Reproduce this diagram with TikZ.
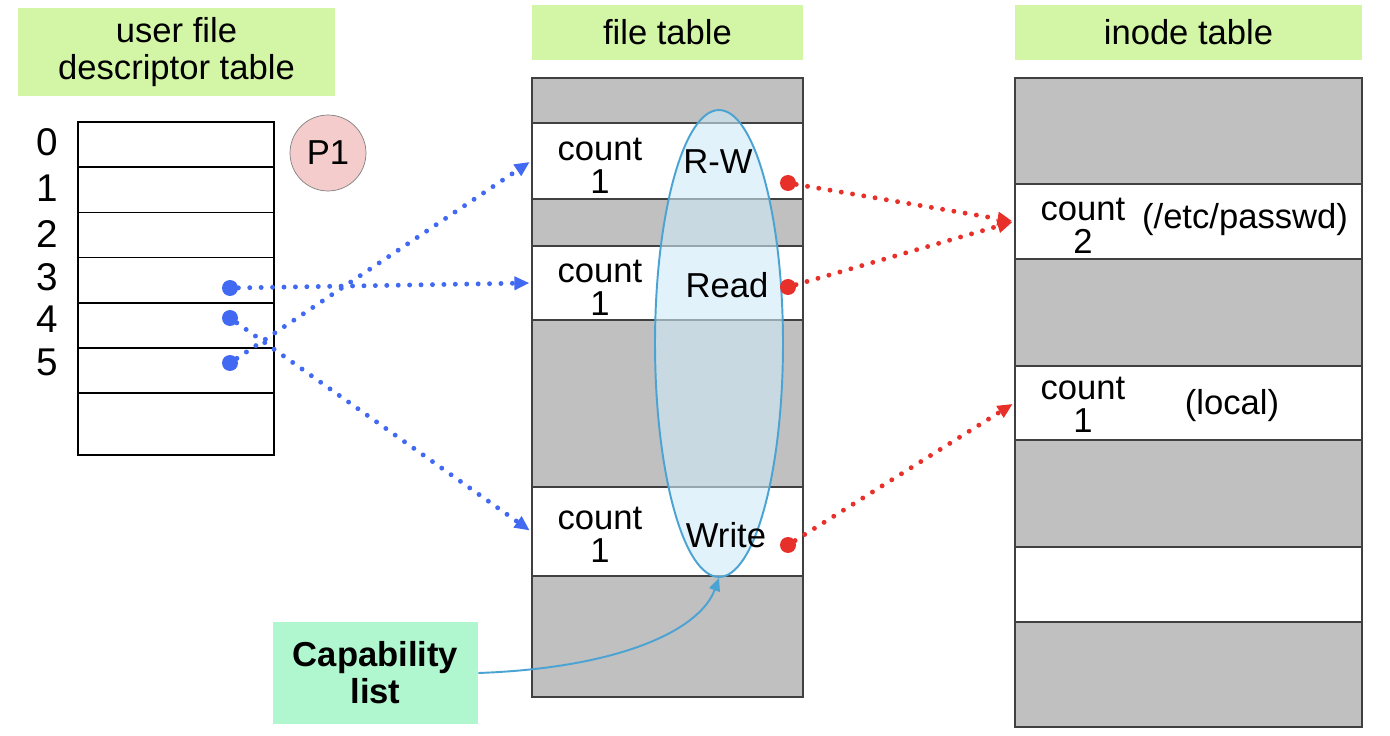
\documentclass[tikz,border=0pt]{standalone}
\usepackage{fontspec}
\setmainfont{Liberation Sans}
\usetikzlibrary{arrows.meta,positioning,shapes.geometric}
\definecolor{headgreen}{HTML}{D2F6A6}
\definecolor{capgreen}{HTML}{B0F6CE}
\definecolor{cellgray}{HTML}{C0C0C0}
\definecolor{linegray}{HTML}{404040}
\definecolor{ptrblue}{HTML}{4169F2}
\definecolor{ptrred}{HTML}{E8302A}
\definecolor{capblue}{HTML}{4AA3D2}
\definecolor{capfill}{HTML}{CFEAF7}
\definecolor{procpink}{HTML}{F4CCCC}
\tikzset{
  heading/.style={fill=headgreen,font=\fontsize{19.7}{21.5}\selectfont,align=center,inner sep=0pt},
  fdcell/.style={draw=black,fill=white,line width=0.8pt,minimum width=3.92cm,minimum height=0.904cm,inner sep=0pt},
  fdnum/.style={font=\fontsize{22}{24}\selectfont,inner sep=0pt},
  tablebox/.style={draw=linegray,fill=cellgray,line width=1pt,inner sep=0pt},
  slot/.style={draw=linegray,fill=white,line width=1pt,inner sep=0pt},
  txt/.style={font=\fontsize{19.7}{18.5}\selectfont,align=center,inner sep=0pt},
  bluedot/.style={circle,fill=ptrblue,minimum size=0.32cm,inner sep=0pt},
  reddot/.style={circle,fill=ptrred,minimum size=0.32cm,inner sep=0pt},
  blueptr/.style={-{Triangle[length=3mm,width=2.6mm]},draw=ptrblue,line width=2.8pt,dash pattern=on 0pt off 6.5pt,line cap=round,shorten >=1pt},
  redptr/.style={-{Triangle[length=3mm,width=2.6mm]},draw=ptrred,line width=2.8pt,dash pattern=on 0pt off 6.5pt,line cap=round,shorten >=1pt},
  caparrow/.style={-{Triangle[length=2.6mm,width=2.2mm]},draw=capblue,line width=1.1pt}
}
\begin{document}
\begin{tikzpicture}[x=0.02cm,y=-0.02cm]
\path[use as bounding box] (0,0) rectangle (1390,736);

% headings
\node[heading,minimum width=6.34cm,minimum height=1.76cm] (fdhead) at (176.5,52) {user file\\descriptor table};
\node[heading,minimum width=5.42cm,minimum height=1.1cm] (fthead) at (667.5,32.5) {file table};
\node[heading,minimum width=6.94cm,minimum height=1.1cm] (inhead) at (1188.5,32.5) {inode table};

% user file descriptor table
\foreach \i in {0,...,5}
  \node[fdcell] (fd\i) at (176,144.6+45.2*\i) {};
\node[fdcell,minimum height=1.24cm] (fd6) at (176,424) {};
\foreach \n/\y in {0/142,1/188,2/234,3/277,4/319,5/362}
  \node[fdnum] (num\n) at (47,\y) {\n};
\node[circle,draw=gray,fill=procpink,minimum size=1.52cm,inner sep=0pt,font=\fontsize{19.7}{20}\selectfont] (proc) at (328,153) {P1};

% file table
\node[tablebox,minimum width=5.42cm,minimum height=12.38cm] (ft) at (667.5,387.5) {};
\node[slot,minimum width=5.42cm,minimum height=1.52cm] (ft1) at (667.5,161) {};
\node[slot,minimum width=5.42cm,minimum height=1.48cm] (ft2) at (667.5,283) {};
\node[slot,minimum width=5.42cm,minimum height=1.78cm] (ft3) at (667.5,531.5) {};
\node[txt] (cnt1) at (600,166) {count\\1};
\node[txt] (cnt2) at (600,288) {count\\1};
\node[txt] (cnt3) at (600,535) {count\\1};

% capability ellipse
\node[ellipse,draw=capblue,fill=capfill,fill opacity=0.6,line width=1.1pt,minimum width=2.56cm,minimum height=9.34cm,inner sep=0pt] (cap) at (719,343.5) {};
\node[txt] (rw) at (718,162) {R-W};
\node[txt] (rd) at (727,285) {Read};
\node[txt] (wr) at (726,535) {Write};

% inode table
\node[tablebox,minimum width=6.94cm,minimum height=12.98cm] (it) at (1188.5,402.5) {};
\node[slot,minimum width=6.94cm,minimum height=1.5cm] (in1) at (1188.5,221.5) {};
\node[slot,minimum width=6.94cm,minimum height=1.48cm] (in2) at (1188.5,403) {};
\node[slot,minimum width=6.94cm,minimum height=1.5cm] (in3) at (1188.5,584.5) {};
\node[txt] (icnt1) at (1083,226) {count\\2};
\node[txt] (ipath) at (1245,220) {(/etc/passwd)};
\node[txt] (icnt2) at (1083,405) {count\\1};
\node[txt] (ilocal) at (1232,406) {(local)};

% pointers
\node[bluedot] (b3) at (230,288) {};
\node[bluedot] (b4) at (230,318) {};
\node[bluedot] (b5) at (230,363) {};
\draw[blueptr] (b3) -- (ft2.west);
\draw[blueptr] (b5) -- (ft1.west);
\draw[blueptr] (b4) -- (ft3.west);

\node[reddot] (r1) at (788,183) {};
\node[reddot] (r2) at (788,287) {};
\node[reddot] (r3) at (788,545) {};
\draw[redptr] (r1) -- (in1.west);
\draw[redptr] (r2) -- (in1.west);
\draw[redptr] (r3) -- (in2.west);

% capability list
\node[fill=capgreen,minimum width=4.1cm,minimum height=2.04cm,align=center,inner sep=0pt,font=\fontsize{19.7}{21}\selectfont\bfseries] (capl) at (375.5,673) {Capability\\list};
\draw[caparrow] (capl.east) .. controls (620,668) and (700,630) .. (cap.south);
\end{tikzpicture}
\end{document}
